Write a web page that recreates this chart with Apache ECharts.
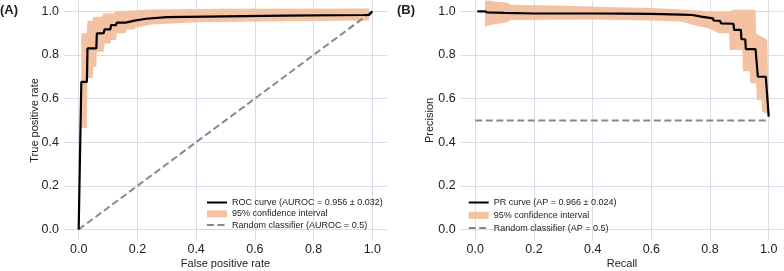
<!DOCTYPE html>
<html>
<head>
<meta charset="utf-8">
<script src="https://cdn.jsdelivr.net/npm/echarts@6/dist/echarts.min.js"></script>
<style>
  html, body { margin: 0; padding: 0; background: #fff; }
  #main { width: 784px; height: 271px; }
</style>
</head>
<body>
<div id="main"></div>
<script>
// tick labels shared by both panels
var tickValues = [0, 0.2, 0.4, 0.6, 0.8, 1.0];

// (A) mean ROC curve, [fpr, tpr]
var rocMean = [[0, 0], [0.009, 0.677], [0.028, 0.677], [0.03, 0.83], [0.06, 0.83], [0.062, 0.899],
  [0.085, 0.9], [0.088, 0.917], [0.108, 0.917], [0.11, 0.937], [0.127, 0.937], [0.13, 0.948],
  [0.16, 0.948], [0.163, 0.957], [0.19, 0.957], [0.193, 0.963], [0.23, 0.966], [0.3, 0.973],
  [0.5, 0.977], [0.7, 0.98], [0.97, 0.983], [0.99, 0.984], [1.0, 1.0]];
var rocUpper = [[0.009, 0.9], [0.028, 0.9], [0.03, 0.957], [0.047, 0.957], [0.05, 0.975], [0.08, 0.975],
  [0.082, 0.99], [0.12, 0.99], [0.125, 1.0], [0.25, 1.008], [0.5, 1.012], [0.99, 1.013]];
var rocLower = [[0.009, 0.465], [0.028, 0.465], [0.03, 0.694], [0.047, 0.694], [0.05, 0.746], [0.06, 0.746],
  [0.062, 0.815], [0.085, 0.815], [0.088, 0.853], [0.108, 0.853], [0.11, 0.868], [0.127, 0.868],
  [0.13, 0.9], [0.16, 0.9], [0.163, 0.917], [0.19, 0.917], [0.193, 0.925], [0.25, 0.94],
  [0.4, 0.95], [0.7, 0.955], [0.99, 0.958]];
var rocRandom = [[0, 0], [1, 1]];

// (B) mean PR curve, [recall, precision]
var prMean = [[0.007, 1.0], [0.033, 1.0], [0.04, 0.995], [0.1, 0.993], [0.2, 0.99], [0.4, 0.99],
  [0.5, 0.989], [0.6, 0.988], [0.7, 0.985], [0.74, 0.983], [0.742, 0.978], [0.77, 0.976],
  [0.772, 0.97], [0.81, 0.968], [0.812, 0.958], [0.835, 0.956], [0.837, 0.945], [0.88, 0.943],
  [0.882, 0.915], [0.905, 0.915], [0.907, 0.872], [0.92, 0.872], [0.922, 0.827], [0.955, 0.827],
  [0.963, 0.70], [0.99, 0.70], [1.0, 0.517]];
var prUpper = [[0.033, 1.06], [0.06, 1.045], [0.11, 1.04], [0.12, 1.03], [0.3, 1.025], [0.45, 1.02],
  [0.6, 1.015], [0.7, 1.008], [0.8, 1.0], [0.87, 0.998], [0.875, 1.007], [0.955, 1.007],
  [0.957, 0.9], [0.975, 0.885], [0.995, 0.87], [1.0, 0.55]];
var prLower = [[0.033, 0.93], [0.06, 0.94], [0.11, 0.95], [0.12, 0.96], [0.4, 0.962], [0.6, 0.958],
  [0.7, 0.953], [0.75, 0.935], [0.8, 0.92], [0.83, 0.9], [0.865, 0.9], [0.867, 0.823],
  [0.91, 0.823], [0.912, 0.725], [0.935, 0.725], [0.937, 0.67], [0.957, 0.67], [0.96, 0.594],
  [0.975, 0.594], [0.977, 0.54], [0.995, 0.53], [1.0, 0.5]];
var prRandom = [[0, 0.5], [1, 0.5]];

var rocName = 'ROC curve (AUROC = 0.956 \u00b1 0.032)';
var prName = 'PR curve (AP = 0.966 \u00b1 0.024)';
var ciName = '95% confidence interval';
var randRocName = 'Random classifier (AUROC = 0.5)';
var randPrName = 'Random classifier (AP = 0.5)';

var bandColor = '#f3c2a2';
var gridColor = '#dcdce8';
var textColor = '#222';

// filled polygon between upper and lower bounds
function bandItem(upper, lower) {
  return function(params, api) {
    var pts = [];
    for (var i = 0; i < upper.length; i++) pts.push(api.coord(upper[i]));
    for (var j = lower.length - 1; j >= 0; j--) pts.push(api.coord(lower[j]));
    return { type: 'polygon', shape: { points: pts }, style: { fill: bandColor } };
  };
}

function xAxisOf(idx, name) {
  return {
    type: 'value', gridIndex: idx, min: -0.05, max: 1.05,
    name: name, nameLocation: 'middle', nameGap: 18, nameMoveOverlap: false,
    nameTextStyle: { fontSize: 11, color: textColor },
    axisLine: { show: false, onZero: false }, axisTick: { show: false },
    axisLabel: { fontSize: 12.5, color: textColor, margin: 3,
      customValues: tickValues, formatter: function(v) { return v.toFixed(1); } },
    splitLine: { show: true, showMinLine: false, showMaxLine: false, lineStyle: { color: gridColor, width: 1 } }
  };
}
function yAxisOf(idx, name, gap) {
  return {
    type: 'value', gridIndex: idx, min: -0.05, max: 1.05,
    name: name, nameLocation: 'middle', nameGap: gap, nameMoveOverlap: false,
    nameTextStyle: { fontSize: 11, color: textColor },
    axisLine: { show: false, onZero: false }, axisTick: { show: false },
    axisLabel: { fontSize: 12.5, color: textColor, margin: 5,
      customValues: tickValues, formatter: function(v) { return v.toFixed(1); } },
    splitLine: { show: true, showMinLine: false, showMaxLine: false, lineStyle: { color: gridColor, width: 1 } }
  };
}
// line items get an invisible symbol so only the stroke shows
function legendOf(left, top, gap, names) {
  var noSymbol = { opacity: 0 };
  return {
    left: left, top: top, orient: 'vertical', padding: 0,
    itemWidth: 20, itemHeight: 7, itemGap: gap,
    textStyle: { fontSize: 9, color: textColor, lineHeight: 9 },
    data: [{ name: names[0], itemStyle: noSymbol }, { name: ciName, icon: 'rect' }, { name: names[1], itemStyle: noSymbol }]
  };
}

var chart = echarts.init(document.getElementById('main'));
chart.setOption({
  animation: false,
  textStyle: { fontFamily: 'Liberation Sans, Arial, sans-serif' },
  title: [
    { text: '(A)', left: 0, top: 4, padding: 0, textStyle: { fontSize: 13, fontWeight: 'bold', color: textColor } },
    { text: '(B)', left: 397, top: 4, padding: 0, textStyle: { fontSize: 13, fontWeight: 'bold', color: textColor } }
  ],
  grid: [
    { left: 64, top: 0.4, width: 323, height: 240, outerBoundsMode: 'none' },
    { left: 460.6, top: 0.4, width: 322.8, height: 240, outerBoundsMode: 'none' }
  ],
  xAxis: [xAxisOf(0, 'False positive rate'), xAxisOf(1, 'Recall')],
  yAxis: [yAxisOf(0, 'True positive rate', 23.5), yAxisOf(1, 'Precision', 25)],
  legend: [
    legendOf(206, 198, 2.3, [rocName, randRocName]),
    legendOf(467.7, 198, 3.8, [prName, randPrName])
  ],
  series: [
    { name: ciName, type: 'custom', xAxisIndex: 0, yAxisIndex: 0, clip: true, z: 1,
      itemStyle: { color: bandColor }, renderItem: bandItem(rocUpper, rocLower), data: [rocUpper[0]] },
    { name: randRocName, type: 'line', xAxisIndex: 0, yAxisIndex: 0, symbol: 'none', z: 2,
      lineStyle: { color: '#888', width: 2, type: [7, 3.5] }, itemStyle: { color: '#888' }, data: rocRandom },
    { name: rocName, type: 'line', xAxisIndex: 0, yAxisIndex: 0, symbol: 'none', z: 3,
      lineStyle: { color: '#000', width: 2.2 }, itemStyle: { color: '#000' }, data: rocMean },

    { name: ciName, type: 'custom', xAxisIndex: 1, yAxisIndex: 1, clip: true, z: 1,
      itemStyle: { color: bandColor }, renderItem: bandItem(prUpper, prLower), data: [prUpper[0]] },
    { name: randPrName, type: 'line', xAxisIndex: 1, yAxisIndex: 1, symbol: 'none', z: 2,
      lineStyle: { color: '#888', width: 2, type: [7, 3.5] }, itemStyle: { color: '#888' }, data: prRandom },
    { name: prName, type: 'line', xAxisIndex: 1, yAxisIndex: 1, symbol: 'none', z: 3,
      lineStyle: { color: '#000', width: 2.2 }, itemStyle: { color: '#000' }, data: prMean }
  ]
});
</script>
</body>
</html>
